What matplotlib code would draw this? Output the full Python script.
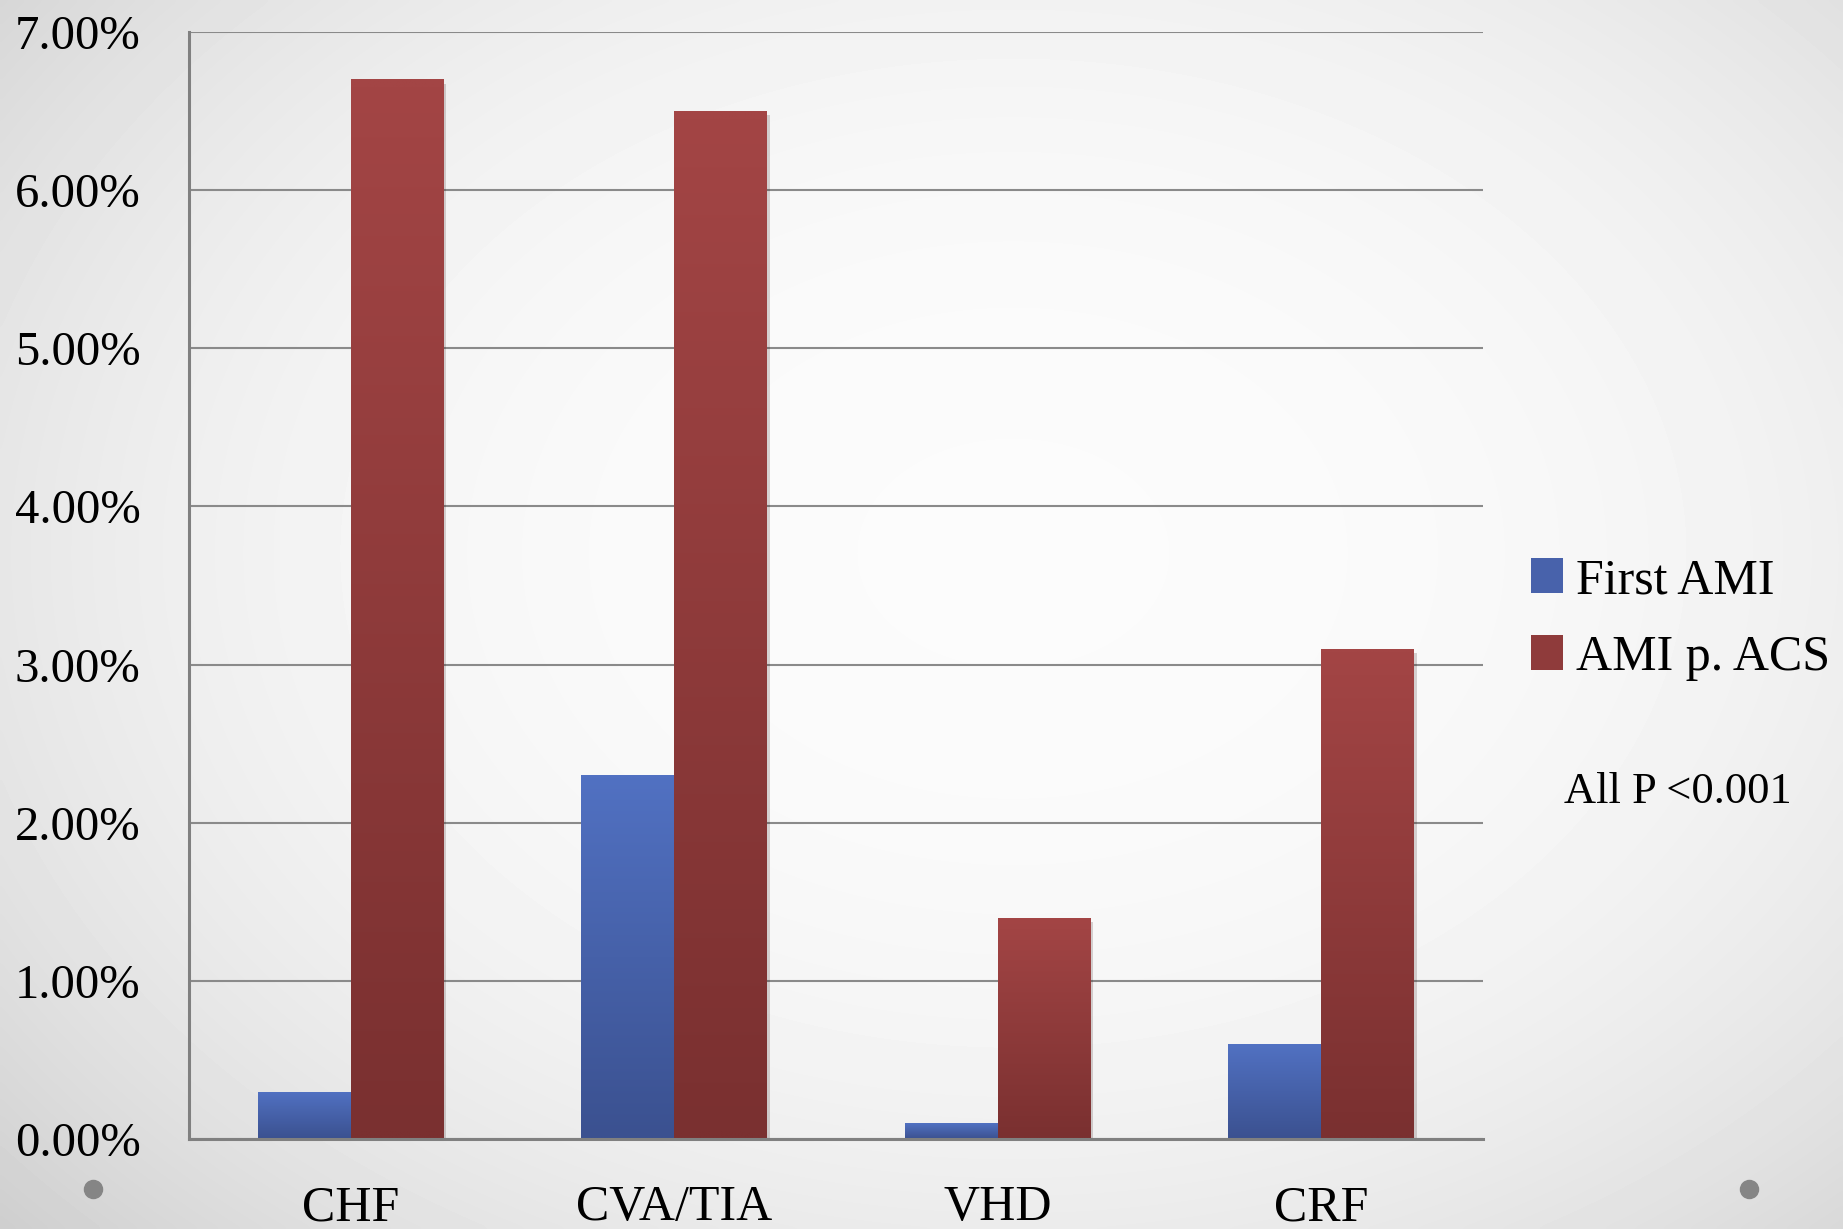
import numpy as np
import matplotlib
matplotlib.use("Agg")
import matplotlib.pyplot as plt
from matplotlib.patches import Patch
from matplotlib.lines import Line2D
from matplotlib import patheffects

categories = ["CHF", "CVA/TIA", "VHD", "CRF"]
first_ami = [0.3, 2.3, 0.1, 0.6]      # percent
ami_p_acs = [6.7, 6.5, 1.4, 3.1]      # percent
series_names = ["First AMI", "AMI p. ACS"]
y_ticks = [0, 1, 2, 3, 4, 5, 6, 7]

plt.rcParams['font.family'] = ['Liberation Serif', 'DejaVu Serif']

W, H = 1843, 1229
fig = plt.figure(figsize=(W / 100, H / 100), dpi=100)

# slide background: light radial gradient, grey only towards the edges
bg = fig.add_axes([0, 0, 1, 1], zorder=-10)
yy, xx = np.mgrid[0:1:300j, 0:1:450j]
r = np.sqrt(((xx - 0.55) / 0.68) ** 2 + ((yy - 0.45) / 0.75) ** 2)
shade = np.clip(0.985 - 0.14 * r ** 2.6, 0, 1)
bg.imshow(shade, cmap='gray', vmin=0, vmax=1, extent=[0, 1, 0, 1],
          aspect='auto', origin='upper', interpolation='bicubic')
bg.axis('off')

ax = fig.add_axes([189 / W, 1 - 1139 / H, (1483 - 189) / W, (1139 - 32) / H])
ax.set_facecolor('none')

x = np.arange(len(categories))
width = 0.287

grads = {
    0: ('#5171c2', '#3b5190'),
    1: ('#a34545', '#7a3030'),
}
shadow = [patheffects.SimplePatchShadow(offset=(2, -3), alpha=0.18),
          patheffects.Normal()]

for i, vals in enumerate([first_ami, ami_p_acs]):
    offs = -width / 2 if i == 0 else width / 2
    bars = ax.bar(x + offs, vals, width, color=grads[i][0], zorder=3,
                  linewidth=0, path_effects=shadow)
    top_c, bot_c = [np.array(matplotlib.colors.to_rgb(c)) for c in grads[i]]
    t = np.linspace(0, 1, 64)[:, None, None]
    img = top_c[None, None, :] * (1 - t) + bot_c[None, None, :] * t
    for b in bars:
        x0, w, h = b.get_x(), b.get_width(), b.get_height()
        im = ax.imshow(img, extent=[x0, x0 + w, 0, h], aspect='auto',
                       origin='upper', zorder=4, interpolation='bilinear')
        im.set_clip_path(b)

ax.set_xlim(-0.5, len(categories) - 0.5)
ax.set_ylim(0, 7)
ax.set_yticks(y_ticks)
ax.set_yticklabels([f"{v:.2f}%" for v in y_ticks])
ax.set_xticks(x)
ax.set_xticklabels(categories)
ax.tick_params(axis='y', length=0, pad=35, labelsize=35)
ax.tick_params(axis='x', length=0, pad=33, labelsize=36)

ax.set_axisbelow(True)
ax.yaxis.grid(True, color='#8a8a8a', linewidth=1.5)
for s in ['top', 'right']:
    ax.spines[s].set_visible(False)
for s in ['left', 'bottom']:
    ax.spines[s].set_color('#808080')
    ax.spines[s].set_linewidth(2.2)
    ax.spines[s].set_zorder(5)

handles = [Patch(facecolor='#4862ab', edgecolor='none'),
           Patch(facecolor='#8f3b3b', edgecolor='none')]
fig.legend(handles, series_names, loc='upper left',
           bbox_to_anchor=(1531 / W, 1 - 558 / H), frameon=False,
           fontsize=36, handlelength=0.64, handleheight=0.7,
           handletextpad=0.26, labelspacing=0.6, borderpad=0,
           borderaxespad=0)

fig.text(1678 / W, 1 - 803 / H, "All P <0.001", fontsize=32,
         ha='center', va='baseline')

# slide bullets
for cx in (93, 1749):
    fig.add_artist(Line2D([cx / W], [1 - 1189 / H], marker='o', ms=13,
                          color='#858585', transform=fig.transFigure))

fig.savefig("out.png", dpi=100)
